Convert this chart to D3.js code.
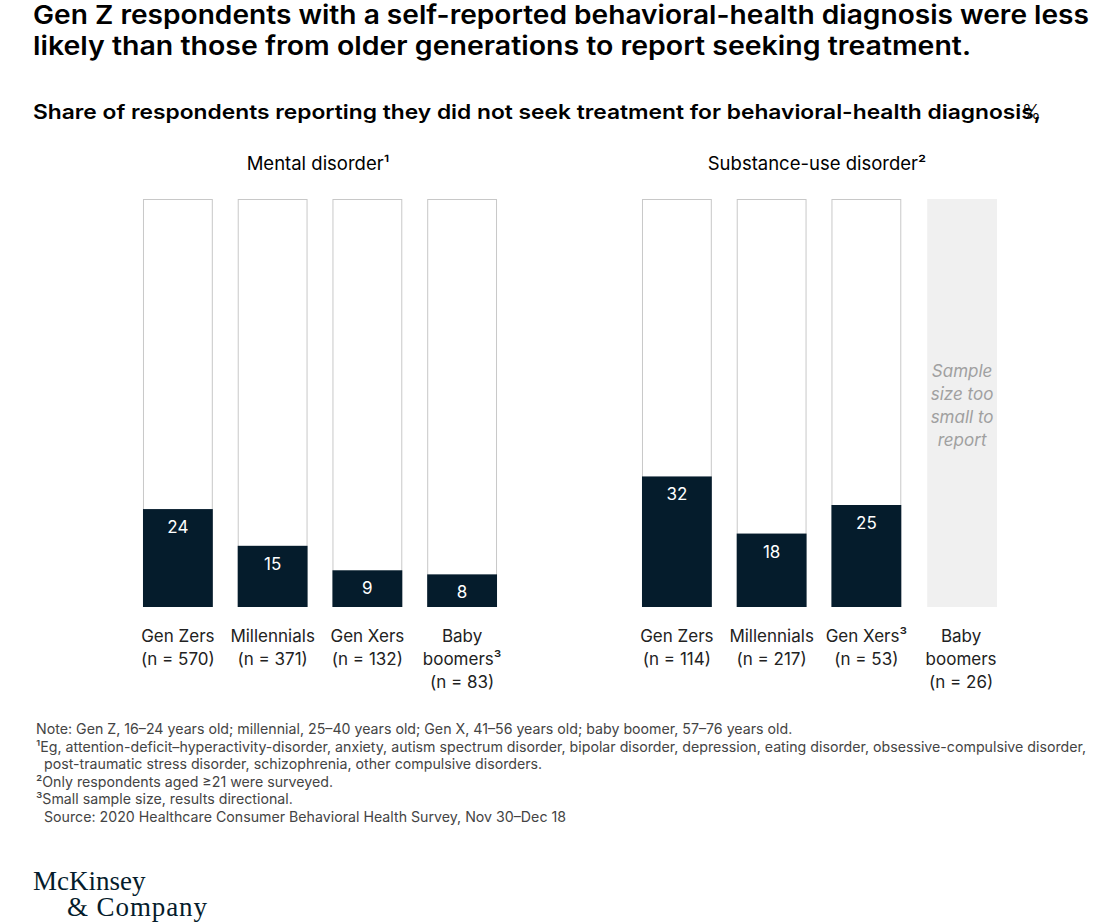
<!DOCTYPE html>
<html><head><meta charset="utf-8">
<script src="https://cdnjs.cloudflare.com/ajax/libs/d3/7.8.5/d3.min.js"></script>
<style>body{margin:0;background:#fff}svg{font-family:Inter,"Noto Sans",sans-serif}</style>
</head><body><svg id="c" width="1100" height="922"></svg>
<script>
const panels = ["Mental disorder¹", "Substance-use disorder²"];
const mentalCats = [["Gen Zers","(n = 570)"],["Millennials","(n = 371)"],["Gen Xers","(n = 132)"],["Baby","boomers³","(n = 83)"]];
const mentalVals = [24, 15, 9, 8];
const subCats = [["Gen Zers","(n = 114)"],["Millennials","(n = 217)"],["Gen Xers³","(n = 53)"],["Baby","boomers","(n = 26)"]];
const subVals = [32, 18, 25, null];
const notes = [
 "Note: Gen Z, 16–24 years old; millennial, 25–40 years old; Gen X, 41–56 years old; baby boomer, 57–76 years old.",
 "¹Eg, attention-deficit–hyperactivity-disorder, anxiety, autism spectrum disorder, bipolar disorder, depression, eating disorder, obsessive-compulsive disorder,",
 "  post-traumatic stress disorder, schizophrenia, other compulsive disorders.",
 "²Only respondents aged ≥21 were surveyed.",
 "³Small sample size, results directional.",
 "  Source: 2020 Healthcare Consumer Behavioral Health Survey, Nov 30–Dec 18"];
const svg = d3.select("#c");
const dark = "#051c2c";
svg.append("text").attr("x",33).attr("y",24).attr("font-size",26).attr("font-weight",600).attr("textLength",1056).attr("lengthAdjust","spacingAndGlyphs").text("Gen Z respondents with a self-reported behavioral-health diagnosis were less");
svg.append("text").attr("x",33).attr("y",55).attr("font-size",26).attr("font-weight",600).attr("textLength",938).attr("lengthAdjust","spacingAndGlyphs").text("likely than those from older generations to report seeking treatment.");
const st = svg.append("text").attr("x",33).attr("y",119).attr("font-size",20).attr("font-weight",600).attr("textLength",1008).attr("lengthAdjust","spacingAndGlyphs").text("Share of respondents reporting they did not seek treatment for behavioral-health diagnosis, ");
svg.append("text").attr("x",1022).attr("y",119).attr("font-size",20).attr("font-weight",300).text("%");
const y = d3.scaleLinear().domain([0,100]).range([607,199]);
const data = [[mentalCats,mentalVals,130],[subCats,subVals,629]];
data.forEach(([cats,vals,x0],pi)=>{
  const x = d3.scaleBand().domain(d3.range(4)).range([x0, x0+380]).paddingInner(0.263).paddingOuter(0.137);
  svg.append("text").attr("x", x0+188).attr("y",170).attr("text-anchor","middle").attr("font-size",18.5).text(panels[pi]);
  const g = svg.append("g");
  vals.forEach((v,i)=>{
    const bx = x(i), bw = x.bandwidth();
    if (v===null){
      g.append("rect").attr("x",bx+1).attr("y",y(100)).attr("width",bw).attr("height",y(0)-y(100)).attr("fill","#f0f0f0");
      ["Sample","size too","small to","report"].forEach((t,k)=>g.append("text").attr("x",bx+bw/2+1).attr("y",377+k*23).attr("text-anchor","middle").attr("font-size",17).attr("font-style","italic").attr("fill","#a0a0a0").text(t));
    } else {
      g.append("rect").attr("x",bx+0.5).attr("y",y(100)+0.5).attr("width",bw-1).attr("height",y(0)-y(100)-1).attr("fill","#fff").attr("stroke","#c8c8c8");
      g.append("rect").attr("x",bx).attr("y",y(v)).attr("width",bw).attr("height",y(0)-y(v)).attr("fill",dark);
      g.append("text").attr("x",bx+bw/2).attr("y",y(v)+24).attr("text-anchor","middle").attr("font-size",17).attr("fill","#fff").text(v);
    }
    cats[i].forEach((t,k)=>g.append("text").attr("x",bx+bw/2).attr("y",642+k*23).attr("text-anchor","middle").attr("font-size",17).attr("fill","#222").text(t));
  });
});
notes.forEach((t,i)=>svg.append("text").attr("x",36).attr("y",734+[0,17.5,35,52.5,70,87.5][i]).attr("font-size",14.2).attr("fill","#444").attr("xml:space","preserve").text(t));
svg.append("text").attr("x",33).attr("y",890).attr("font-family","Liberation Serif,serif").attr("font-size",27).attr("fill",dark).text("McKinsey");
svg.append("text").attr("x",67).attr("y",916).attr("font-family","Liberation Serif,serif").attr("font-size",27).attr("fill",dark).attr("textLength",140).text("& Company");
</script></body></html>
